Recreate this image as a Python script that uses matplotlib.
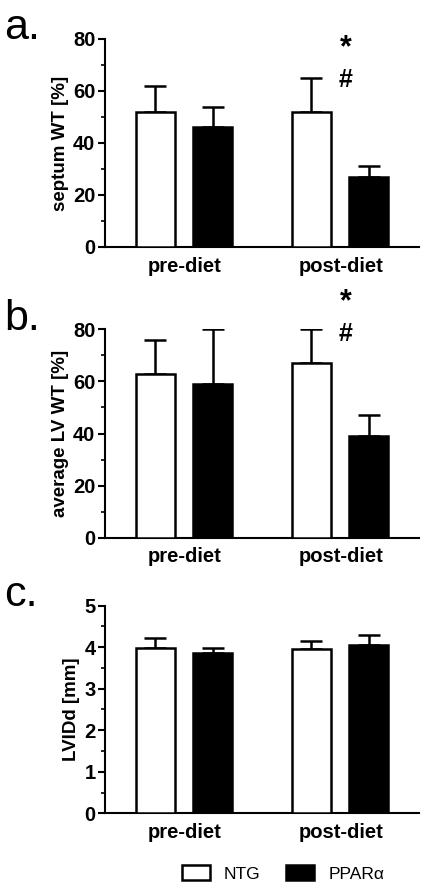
import matplotlib
matplotlib.use('Agg')
import matplotlib.pyplot as plt
from matplotlib.patches import Patch

plt.rcParams['font.family'] = ['Liberation Sans', 'DejaVu Sans']

groups = ['pre-diet', 'post-diet']
series = ['NTG', 'PPAR\u03b1']

# mean and upper error (SD) per panel, order: [pre, post]
septum_ntg = [52, 52]
septum_ntg_err = [10, 13]
septum_ppar = [46, 27]
septum_ppar_err = [8, 4]

avglv_ntg = [63, 67]
avglv_ntg_err = [13, 13]
avglv_ppar = [59, 39]
avglv_ppar_err = [21, 8]

lvidd_ntg = [3.98, 3.96]
lvidd_ntg_err = [0.25, 0.19]
lvidd_ppar = [3.87, 4.06]
lvidd_ppar_err = [0.12, 0.24]

panels = [
    ('a.', 'septum WT [%]', septum_ntg, septum_ntg_err, septum_ppar, septum_ppar_err, 80, 20, (0.957, 0.805), [0.7231, 0.9563]),
    ('b.', 'average LV WT [%]', avglv_ntg, avglv_ntg_err, avglv_ppar, avglv_ppar_err, 80, 20, (1.13, 0.977), [0.3972, 0.6308]),
    ('c.', 'LVIDd [mm]', lvidd_ntg, lvidd_ntg_err, lvidd_ppar, lvidd_ppar_err, 5, 1, None, [0.0882, 0.3210]),
]

fig = plt.figure(figsize=(4.29, 8.92), dpi=100)
x = [0, 1]
w = 0.25
for letter, ylab, ntg, ntg_e, ppar, ppar_e, ymax, step, sig, (b, t) in panels:
    ax = fig.add_axes([0.245, b, 0.732, t - b])
    xn = [i - 0.19 for i in x]
    xp = [i + 0.18 for i in x]
    ax.bar(xn, ntg, w, color='white', edgecolor='black', linewidth=1.8, zorder=3)
    ax.bar(xp, ppar, w, color='black', edgecolor='black', linewidth=1.8, zorder=3)
    ax.errorbar(xn, ntg, yerr=[[0, 0], ntg_e], fmt='none', ecolor='black',
                elinewidth=1.8, capsize=8, capthick=1.8, zorder=2)
    ax.errorbar(xp, ppar, yerr=[[0, 0], ppar_e], fmt='none', ecolor='black',
                elinewidth=1.8, capsize=8, capthick=1.8, zorder=2)
    ax.set_xlim(-0.51, 1.503)
    ax.set_ylim(0, ymax)
    ax.set_yticks([i * step for i in range(int(ymax / step) + 1)])
    ax.set_yticks([i * step / 2 for i in range(int(ymax / step) * 2 + 1)], minor=True)
    ax.set_xticks(x)
    ax.set_xticklabels(groups, fontsize=14.5, fontweight='bold')
    ax.tick_params(axis='x', length=0, pad=7)
    ax.tick_params(axis='y', which='major', length=5, width=1.5, labelsize=14.5, pad=2)
    ax.tick_params(axis='y', which='minor', length=3, width=1.2)
    for lab in ax.get_yticklabels():
        lab.set_fontweight('bold')
    ax.spines['top'].set_visible(False)
    ax.spines['right'].set_visible(False)
    ax.spines['left'].set_linewidth(1.5)
    ax.spines['bottom'].set_linewidth(1.5)
    ax.set_ylabel(ylab, fontsize=13.5, fontweight='bold', labelpad=3)
    if sig:
        # significance marks over the post-diet PPARa bar
        ax.text(1.03, sig[0] * ymax, '*', ha='center', va='center', fontsize=22, fontweight='bold', clip_on=False)
        ax.text(1.03, sig[1] * ymax, '#', ha='center', va='center', fontsize=18, fontweight='bold', clip_on=False)
    fig.text(0.01, t + 0.012, letter, fontsize=31, ha='left', va='center')

handles = [Patch(facecolor='white', edgecolor='black', linewidth=1.8, label=series[0]),
           Patch(facecolor='black', edgecolor='black', linewidth=1.8, label=series[1])]
fig.legend(handles=handles, loc='center', bbox_to_anchor=(0.66, 0.021), ncol=2, frameon=False,
           fontsize=12.5, handlelength=1.6, handleheight=1.0, columnspacing=1.5)

fig.savefig('out.png', dpi=100)
